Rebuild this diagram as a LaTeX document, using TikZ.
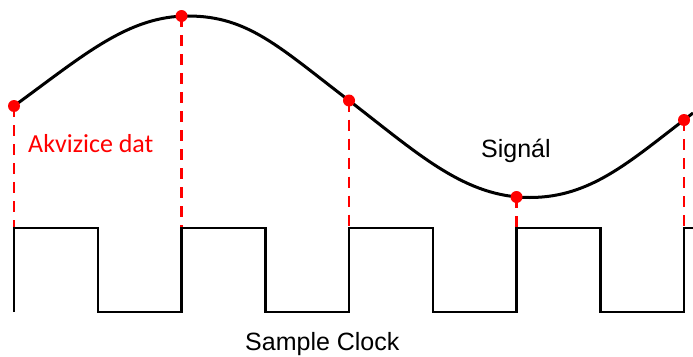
\documentclass[tikz,border=0pt]{standalone}
\usepackage{fontspec}
\setmainfont{Liberation Sans}
\newfontfamily\calibri{Carlito}
\usepackage{tikz}
\usetikzlibrary{positioning}

\begin{document}
\begin{tikzpicture}[x=1pt, y=-1pt]
    \useasboundingbox (0,0) rectangle (693,356);
    \coordinate (low) at (0,312);

    % Sampling lines
    \foreach \name/\x/\y in {s1/14/106, s2/181.5/16, s3/349/100.5, s4/516.5/197, s5/684/120} {
        \coordinate (\name) at (\x,\y);
        \draw[red, line width=2.2pt, dash pattern=on 11pt off 8pt] (\name) -- (\name |- low);
    }

    % Sample clock
    \draw[line width=2.5pt] (14,312)
        \foreach \i in {0,2,4,6} {
            -- ({14+83.75*\i},228) -- ({14+83.75*(\i+1)},228)
            -- ({14+83.75*(\i+1)},312) -- ({14+83.75*(\i+2)},312)
        } -- (684,228) -- (693,228);

    % Signal
    \draw[line width=3pt] (s1) .. controls (84,55) and (128,16) .. (188,16)
        .. controls (248,16) and (279,47) .. (s3)
        .. controls (419,154.5) and (465,197.5) .. (530,197.5)
        .. controls (590,197.5) and (629,162) .. (s5) -- (693,113);

    % Samples
    \foreach \name in {s1,s2,s3,s4,s5}
        \fill[red] (\name) circle (6pt);

    % Labels
    \node[anchor=base west, inner sep=0, text=red, font=\calibri\fontsize{26}{30}\selectfont] (acq) at (28,152) {Akvizice dat};
    \node[anchor=base west, inner sep=0, font=\fontsize{25}{29}\selectfont] (sig) at (481,157) {Signál};
    \node[anchor=base west, inner sep=0, font=\fontsize{25}{29}\selectfont] (clk) at (245,350) {Sample Clock};
\end{tikzpicture}
\end{document}
